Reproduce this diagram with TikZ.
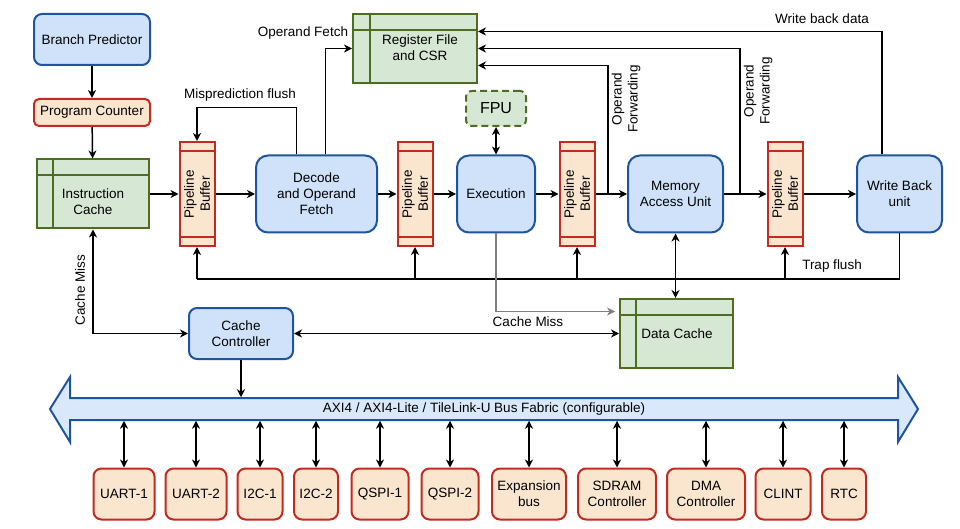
\documentclass[tikz,border=0pt]{standalone}
\usepackage{fontspec}
\setmainfont{Liberation Sans}
\usetikzlibrary{arrows.meta}
\definecolor{bluefill}{RGB}{207,226,250}
\definecolor{bluedraw}{RGB}{31,84,158}
\definecolor{busfill}{RGB}{218,232,252}
\definecolor{redfill}{RGB}{250,229,207}
\definecolor{reddraw}{RGB}{196,42,32}
\definecolor{greenfill}{RGB}{214,232,212}
\definecolor{greendraw}{RGB}{75,110,35}
\begin{document}
\begin{tikzpicture}[x=1pt, y=-1pt, >={Stealth[length=8pt,width=8pt,inset=2.5pt]}, line width=1.5pt,
  font=\fontsize{13.5}{16}\selectfont,
  blk/.style={draw=bluedraw, fill=bluefill, line width=2pt, rounded corners=8pt, align=center, inner sep=2pt},
  unit/.style={blk, rounded corners=12pt, minimum height=77pt},
  periph/.style={draw=reddraw, fill=redfill, line width=2pt, rounded corners=8pt, align=center, inner sep=2pt, minimum height=51pt},
  pbuf/.style={draw=reddraw, fill=redfill, line width=2pt, minimum width=35pt, minimum height=104pt, inner sep=0pt},
  tbl/.style={draw=greendraw, fill=greenfill, line width=2pt, inner sep=0pt},
  tblline/.style={draw=greendraw, line width=2pt},
  lbl/.style={align=center, inner sep=1pt}]
\useasboundingbox (0,0) rectangle (960,529);

\node[blk, minimum width=116pt, minimum height=51pt] (bp) at (92,39.5) {Branch Predictor};
\node[periph, rounded corners=5pt, minimum width=116pt, minimum height=27pt] (pc) at (92,112.5) {Program Counter};
\node[tbl, minimum width=112pt, minimum height=69pt] (ic) at (93,194) {};
\draw[tblline] ([yshift=-17pt]ic.north west) -- ([yshift=-17pt]ic.north east) ([xshift=17pt]ic.north west) -- ([xshift=17pt]ic.south west);
\node[lbl] (ict) at (93,202) {Instruction\\Cache};

\node[tbl, minimum width=124pt, minimum height=69pt] (rf) at (415,48.5) {};
\draw[tblline] ([yshift=-17pt]rf.north west) -- ([yshift=-17pt]rf.north east) ([xshift=18pt]rf.north west) -- ([xshift=18pt]rf.south west);
\node[lbl] (rft) at (420,48) {Register File\\and CSR};

\node[tbl, minimum width=113pt, minimum height=69pt] (dc) at (676.5,333.5) {};
\draw[tblline] ([yshift=-17pt]dc.north west) -- ([yshift=-17pt]dc.north east) ([xshift=17pt]dc.north west) -- ([xshift=17pt]dc.south west);
\node[lbl] (dct) at (677,334) {Data Cache};

\foreach \n/\x in {pba/197,pbb/415,pbc/577,pbd/785}{
  \node[pbuf] (\n) at (\x,194) {};
  \draw[reddraw, line width=2pt] ([yshift=-10pt]\n.north west) -- ([yshift=-10pt]\n.north east) ([yshift=10pt]\n.south west) -- ([yshift=10pt]\n.south east);
  \node[lbl, rotate=90] (\n-t) at (\x,194) {Pipeline\\Buffer};
}

\node[unit, minimum width=121pt] (dec) at (316.5,194) {Decode\\and Operand\\Fetch};
\node[unit, minimum width=78pt] (exe) at (496,194) {Execution};
\node[unit, minimum width=95pt] (mau) at (675.5,194) {Memory\\Access Unit};
\node[unit, minimum width=85pt] (wb) at (899.5,194) {Write Back\\unit};
\node[tbl, dash pattern=on 7pt off 4pt, rounded corners=6pt, minimum width=60pt, minimum height=35pt, font=\fontsize{16}{18}\selectfont] (fpu) at (496,108.5) {FPU};
\node[blk, minimum width=104pt, minimum height=51pt] (cc) at (241,333.5) {Cache\\Controller};

\draw[->] (bp) -- (pc);
\draw[->] (pc) -- (ic);
\draw[->] (ic) -- (pba);
\draw[->] (pba) -- (dec);
\draw[->] (dec) -- (pbb);
\draw[->] (pbb) -- (exe);
\draw[->] (exe) -- (pbc);
\draw[->] (pbc) -- (mau);
\draw[->] (mau) -- (pbd);
\draw[->] (pbd) -- (wb);
\draw[<->] (fpu) -- (exe);

\draw[->] ([xshift=9pt]dec.north) |- (rf.west);
\node[lbl] (oft) at (303,33) {Operand Fetch};
\draw[->] ([xshift=-20pt]dec.north) -- ++(0,-47) -| (pba.north);
\node[lbl] (mft) at (240,95) {Misprediction flush};

\coordinate (fwa) at (608,194);
\coordinate (fwb) at (740,194);
\draw[->] (fwa) |- ([yshift=-17pt]rf.east);
\node[lbl, rotate=90] (fwat) at (626,99) {Operand\\Forwarding};
\draw[->] (fwb) |- (rf.east);
\node[lbl, rotate=90] (fwbt) at (758,91) {Operand\\Forwarding};
\draw[->] ([xshift=-17.5pt]wb.north) |- ([yshift=17pt]rf.east);
\node[lbl] (wbt) at (822,19) {Write back data};

\coordinate (trp) at (0,279);
\draw (wb.south) |- (pba.south |- trp);
\foreach \n in {pba,pbb,pbc,pbd} \draw[->] (\n.south |- trp) -- (\n.south);
\node[lbl] (tft) at (832,266) {Trap flush};

\draw[->, gray, line width=1.2pt, shorten >=4pt] (exe.south) |- ([yshift=22pt]dc.west);
\draw[<->] (mau.south) -- (mau.south |- dc.north);
\draw[<->] (cc.east) -- (dc.west);
\node[lbl] (cmt) at (528,322) {Cache Miss};
\draw[<->] (ic.south) |- (cc.west);
\node[lbl, rotate=90] (cmat) at (80,290) {Cache Miss};

\draw[draw=bluedraw, fill=busfill, line width=2pt] (50,409) -- (70,377) -- (70,398) -- (898,398) -- (898,377) -- (918,409) -- (898,442) -- (898,420) -- (70,420) -- (70,442) -- cycle;
\node[minimum width=828pt, minimum height=22pt, inner sep=0pt] (bus) at (484,409) {AXI4 / AXI4-Lite / TileLink-U Bus Fabric (configurable)};
\draw[->] (cc) -- (cc |- bus.north);

\foreach \n/\x/\w/\t in {ua/124/61/UART-1, ub/196/61/UART-2, ia/260/45/I2C-1, ib/316/44/I2C-2, qa/380/57/QSPI-1, qb/450/57/QSPI-2, xb/529/74/{Expansion\\bus}, sd/617/78/{SDRAM\\Controller}, dm/706/78/{DMA\\Controller}, cl/783/55/CLINT, rt/844/44/RTC}{
  \node[periph, minimum width=\w pt] (\n) at (\x,494) {\t};
  \draw[<->] (\n) -- (\n |- bus.south);
}

\end{tikzpicture}
\end{document}
